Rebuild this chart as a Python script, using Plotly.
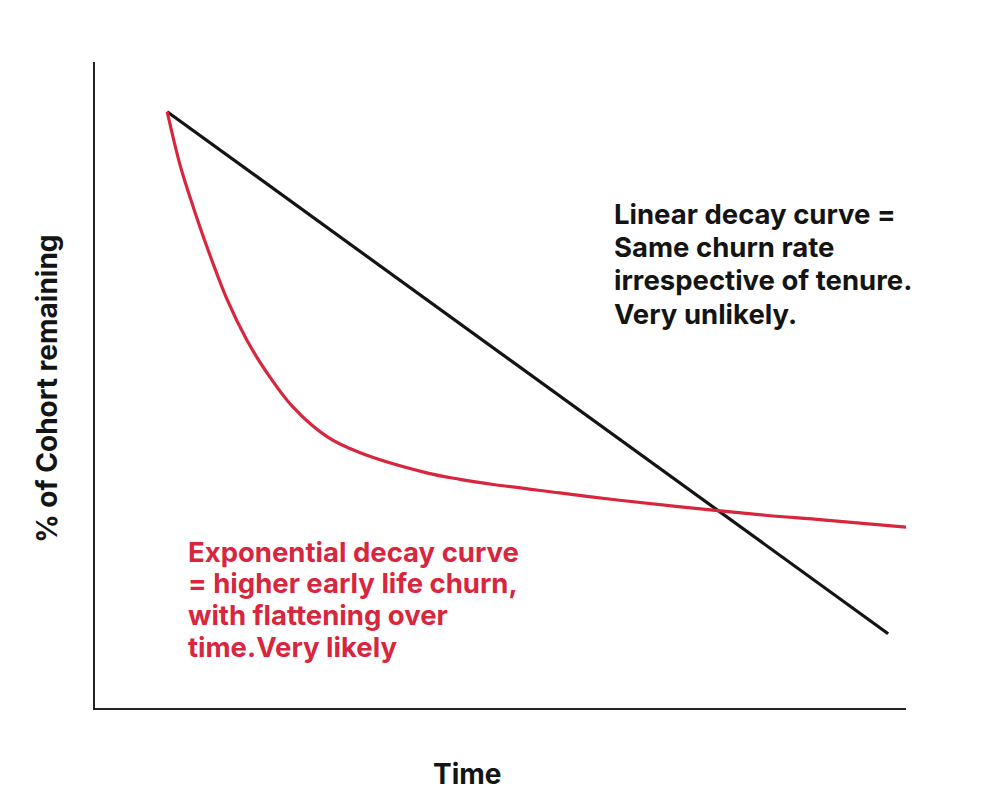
import plotly.graph_objects as go

# Time axis 0-100, share of cohort remaining 0-100
linear_time = [8.9, 97.8]
linear_remaining = [92.3, 11.5]

exp_time = [8.9, 10.5, 12.1, 13.8, 16.3, 18.7, 21.2, 24.4, 28.6, 32.7,
            40.9, 45.0, 49.1, 57.3, 64.4, 72.5, 82.9, 89.0, 100.0]
exp_remaining = [92.3, 84.0, 77.6, 71.4, 63.2, 57.0, 51.9, 46.6, 42.0, 39.5,
                 36.4, 35.4, 34.6, 33.3, 32.2, 31.1, 29.8, 29.2, 28.0]

linear_note = ["Linear decay curve =", "Same churn rate",
               "irrespective of tenure.", "Very unlikely."]
exp_note = ["Exponential decay curve", "= higher early life churn,",
            "with flattening over", "time.Very likely"]

BLACK = "#141414"
RED = "#d7263d"
FONT = "Inter"

fig = go.Figure()

fig.add_trace(go.Scatter(
    x=linear_time, y=linear_remaining, mode="lines",
    line=dict(color=BLACK, width=3.2), cliponaxis=False, hoverinfo="skip"
))
fig.add_trace(go.Scatter(
    x=exp_time, y=exp_remaining, mode="lines",
    line=dict(color=RED, width=3.2, shape="spline", smoothing=1.0),
    cliponaxis=False, hoverinfo="skip"
))


def note(lines, x, y_top, step, color):
    # one annotation per line so the line spacing can be tight
    for i, line in enumerate(lines):
        fig.add_annotation(
            x=x, y=y_top - i * step, xref="paper", yref="paper",
            xanchor="left", yanchor="middle", text=line, showarrow=False,
            font=dict(family=FONT, size=27.5, color=color, weight="bold")
        )


note(linear_note, 0.638, 0.765, 0.0515, BLACK)
note(exp_note, 0.112, 0.242, 0.049, RED)

# axis titles
fig.add_annotation(
    x=0.459, y=-0.132, xref="paper", yref="paper", text="Time",
    showarrow=False,
    font=dict(family=FONT, size=28, color=BLACK, weight="bold")
)
fig.add_annotation(
    x=-0.082, y=0.495, xref="paper", yref="paper", text="% of Cohort remaining",
    textangle=-90, showarrow=False,
    font=dict(family=FONT, size=28, color=BLACK, weight="bold")
)

axis_style = dict(showgrid=False, zeroline=False, showticklabels=False,
                  ticks="", showline=True, linecolor="#222222", linewidth=2,
                  mirror=False, range=[0, 100], fixedrange=True)

fig.update_layout(
    width=986, height=810,
    margin=dict(l=87, r=88, t=54, b=110),
    paper_bgcolor="white", plot_bgcolor="white",
    showlegend=False,
    xaxis=axis_style, yaxis=axis_style,
)

fig.write_html("out.html")
